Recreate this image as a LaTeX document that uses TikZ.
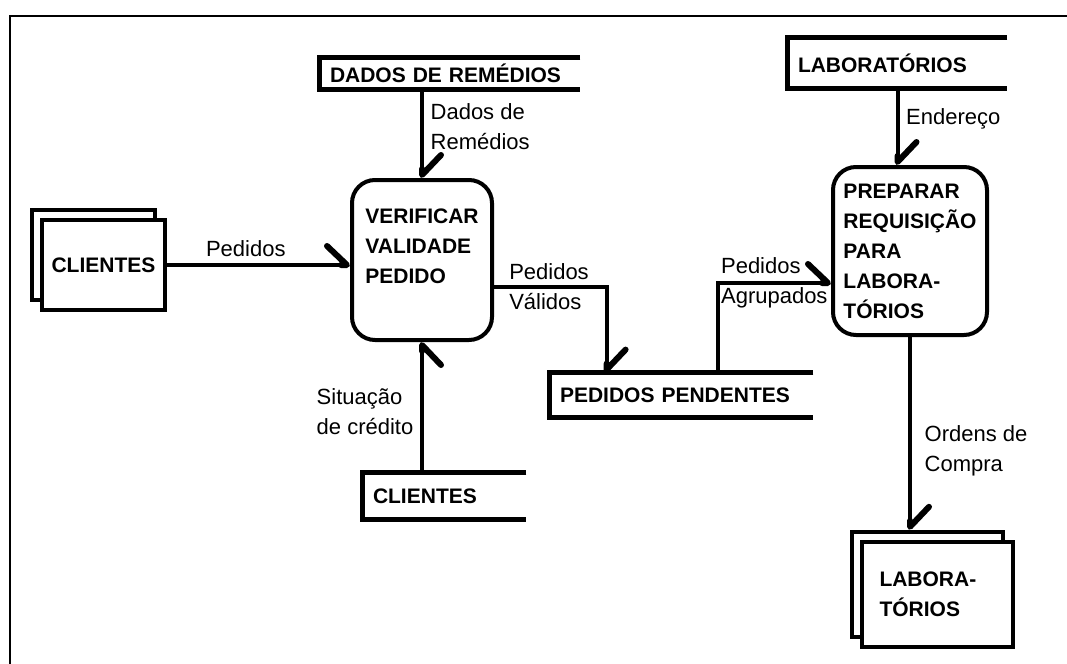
\documentclass[tikz,border=0pt]{standalone}
\usepackage{fontspec}
\setmainfont{Liberation Sans}
\usetikzlibrary{arrows.meta,shadows}
\tikzset{
  proc/.style={draw, line width=2pt, rounded corners=11.5pt, align=left,
    font=\bfseries\fontsize{10.5}{15}\selectfont},
  store/.style={inner xsep=5pt, align=left, font=\bfseries\fontsize{10.5}{15}\selectfont},
  storeline/.style={line width=2.5pt},
  entity/.style={draw, fill=white, line width=2.2pt, align=left,
    font=\bfseries\fontsize{10.5}{15}\selectfont,
    copy shadow={shadow xshift=-5pt, shadow yshift=5pt, draw=black, fill=white, line width=2.2pt}},
  flow/.style={line width=2pt, -{Straight Barb[left, length=10pt, width=19pt, line width=3pt, round]}},
  flowr/.style={line width=2pt, -{Straight Barb[right, length=10pt, width=19pt, line width=3pt, round]}},
  lbl/.style={font=\fontsize{11}{15}\selectfont, align=left}
}
\begin{document}
\begin{tikzpicture}[x=0.5pt, y=-0.5pt]
  \useasboundingbox (0,0) rectangle (1067,664);
  \draw[line width=1pt] (10,664) -- (10,16) -- (1067,16);

  % processos
  \node[proc, minimum width=70pt, minimum height=80pt, text depth=14pt] (verif) at (422,260) {VERIFICAR\\VALIDADE\\PEDIDO};
  \node[proc, minimum width=77pt, minimum height=84pt] (prep) at (910,251) {PREPARAR\\REQUISIÇÃO\\PARA\\LABORA-\\TÓRIOS};

  % entidades externas
  \node[entity, minimum width=61.5pt, minimum height=45pt] (cli) at (103.5,265) {CLIENTES};
  \node[entity, minimum width=75.5pt, minimum height=52.5pt, text width=58pt] (labent) at (937.5,594.5) {LABORA-\\TÓRIOS};

  % depositos de dados
  \node[store, text width=120pt, minimum height=15.5pt] (dados) at (450,73.5) {DADOS DE REMÉDIOS};
  \node[store, text width=99.5pt, minimum height=25pt] (labtop) at (897.5,63) {LABORATÓRIOS};
  \node[store, text width=121.5pt, minimum height=22pt] (pend) at (681.5,395) {PEDIDOS PENDENTES};
  \node[store, text width=71.5pt, minimum height=23pt] (clibot) at (444.5,496) {CLIENTES};
  \foreach \s in {dados,labtop,pend,clibot}
    \draw[storeline] (\s.north east) -- (\s.north west) -- (\s.south west) -- (\s.south east);

  % fluxos
  \draw[flow] (cli.east) -- (cli.east -| verif.west)
    node[lbl, above, pos=0.43] (lped) {Pedidos};
  \draw[flow] (dados.south -| verif.north) -- (verif.north)
    node[lbl, right, pos=0.42] (ldados) {Dados de\\Remédios};
  \draw[flowr] (clibot.north -| verif.south) -- (verif.south)
    node[lbl, left, pos=0.47] (lsit) {Situação\\de crédito};
  \draw[flow] ([yshift=-13.5pt]verif.east) -| ([xshift=28.5pt]pend.north west)
    node[lbl, right, inner sep=1pt, pos=0.05] (lval) {Pedidos\\Válidos};
  \draw[flow] ([xshift=84pt]pend.north west) |- ([yshift=-16pt]prep.west)
    node[lbl, inner sep=1pt, pos=0.75] (lagr) {Pedidos\\Agrupados};
  \draw[flow] (labtop.south) -- (labtop.south |- prep.north)
    node[lbl, right, pos=0.4] (lend) {Endereço};
  \draw[flow, shorten >=5pt] (prep.south) -- (prep.south |- labent.north)
    node[lbl, right, pos=0.56, xshift=3pt] (lord) {Ordens de\\Compra};
\end{tikzpicture}
\end{document}
